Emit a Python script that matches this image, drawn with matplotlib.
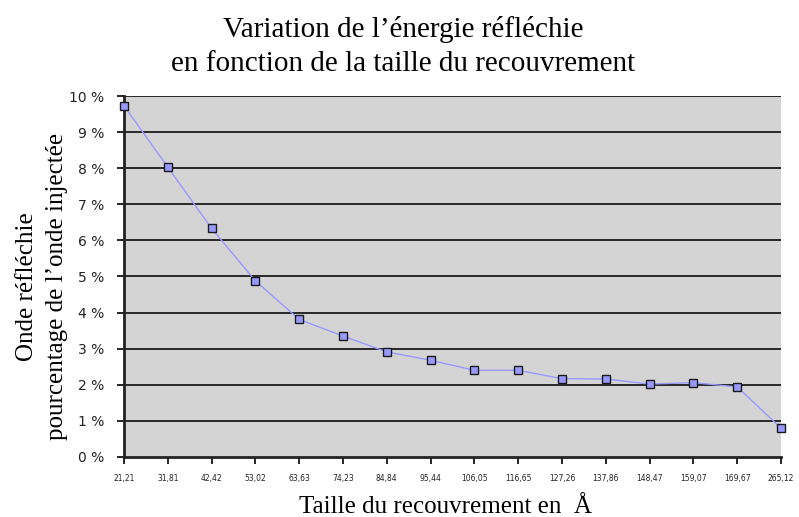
import matplotlib.pyplot as plt
from matplotlib.ticker import FixedLocator

# Taille du recouvrement (Å) et onde réfléchie (% de l'onde injectée)
taille = ['21,21', '31,81', '42,42', '53,02', '63,63', '74,23', '84,84', '95,44',
          '106,05', '116,65', '127,26', '137,86', '148,47', '159,07', '169,67', '265,12']
onde = [9.73, 8.03, 6.33, 4.88, 3.81, 3.35, 2.91, 2.68,
        2.40, 2.40, 2.17, 2.16, 2.02, 2.06, 1.94, 0.80]
y_ticks = list(range(0, 11))

serif = 'Liberation Serif'

fig = plt.figure(figsize=(7.99, 5.17), dpi=100)
ax = fig.add_axes([0.1552, 0.1161, 0.8223, 0.6982])
ax.set_facecolor('#d4d4d4')

x = list(range(len(taille)))
ax.plot(x, onde, color='#9999ff', lw=1, marker='s', markersize=5.5,
        markerfacecolor='#9999ff', markeredgecolor='#1a1a1a', markeredgewidth=1,
        zorder=3, clip_on=False)

ax.set_xlim(0, len(taille) - 1)
ax.set_ylim(0, 10)

# grille horizontale noire tous les 1 %
for v in y_ticks[1:]:
    ax.axhline(v, color='#1a1a1a', lw=1.3, zorder=1)

ax.yaxis.set_major_locator(FixedLocator(y_ticks))
ax.set_yticklabels(['%d %%' % v for v in y_ticks], fontsize=10, color='#222222')
ax.set_xticks(x)
ax.set_xticklabels(taille, fontsize=5.5, color='#222222')

ax.tick_params(axis='y', direction='out', length=5, width=1.2, pad=9)
ax.tick_params(axis='x', direction='out', length=5, width=1.2, pad=7)

for side in ['top', 'right']:
    ax.spines[side].set_visible(False)
ax.spines['left'].set_linewidth(2)
ax.spines['left'].set_color('#222222')
ax.spines['bottom'].set_linewidth(2)
ax.spines['bottom'].set_color('#222222')

fig.text(0.505, 0.942, 'Variation de l\u2019énergie réfléchie', ha='center', va='center',
         fontsize=21, family=serif)
fig.text(0.505, 0.876, 'en fonction de la taille du recouvrement', ha='center', va='center',
         fontsize=21, family=serif)

fig.text(0.558, 0.02, 'Taille du recouvrement en  Å', ha='center', va='center',
         fontsize=18, family=[serif, 'DejaVu Sans'])

fig.text(0.034, 0.445, 'Onde réfléchie', ha='center', va='center', rotation=90,
         fontsize=18, family=serif)
fig.text(0.071, 0.445, 'pourcentage de l\u2019onde injectée', ha='center', va='center',
         rotation=90, fontsize=18, family=serif)

fig.savefig('out.png', dpi=100)
